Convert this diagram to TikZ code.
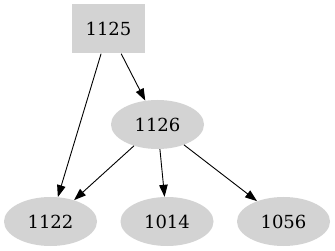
\documentclass[tikz,border=0pt]{standalone}
\usepackage{fontspec}
\setmainfont{DejaVu Serif}
\usetikzlibrary{arrows.meta,shapes.geometric}
\definecolor{lg}{HTML}{D3D3D3}
\begin{document}
\begin{tikzpicture}[x=1pt,y=-1pt,
  box/.style={rectangle,fill=lg,minimum width=73pt,minimum height=49pt,inner sep=0pt,font=\fontsize{18}{20}\selectfont},
  oval/.style={ellipse,fill=lg,minimum width=93pt,minimum height=49pt,inner sep=0pt,font=\fontsize{18}{20}\selectfont},
  edge/.style={draw=black,line width=0.9pt,-{Triangle[length=12pt,width=8.5pt]}}]
\useasboundingbox (0,0) rectangle (335,251);
\node[box] (n1125) at (108.5,29) {1125};
\node[oval] (n1126) at (157.5,124.5) {1126};
\node[oval] (n1122) at (50.5,221.5) {1122};
\node[oval] (n1014) at (167,221.5) {1014};
\node[oval] (n1056) at (283.5,221.5) {1056};
\draw[edge] (n1125) -- (n1122);
\draw[edge] (n1125) -- (n1126);
\draw[edge] (n1126) -- (n1122);
\draw[edge] (n1126) -- (n1014);
\draw[edge] (n1126) -- (n1056);
\end{tikzpicture}
\end{document}
